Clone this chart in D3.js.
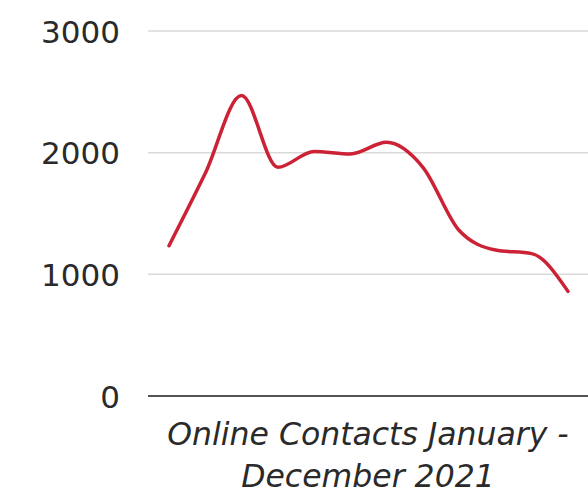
<!DOCTYPE html>
<html><head><meta charset="utf-8">
<script src="https://cdn.jsdelivr.net/npm/d3@7"></script>
<style>
html,body{margin:0;padding:0;background:#fff;}
svg{display:block;}
</style></head>
<body>
<script>
const months = ["Jan","Feb","Mar","Apr","May","Jun","Jul","Aug","Sep","Oct","Nov","Dec"];
const contacts = [1235, 1830, 2470, 1880, 2010, 1990, 2085, 1880, 1360, 1200, 1170, 860];
const yTicks = [0, 1000, 2000, 3000];
const xTitle = ["Online Contacts January -", "December 2021"];

const W = 588, H = 496;
const svg = d3.select("body").append("svg").attr("width", W).attr("height", H);

const plotL = 148, plotR = 600;
const y = d3.scaleLinear().domain([0, 3000]).range([396, 31]);
const x = d3.scalePoint().domain(months).range([169, 568]);

// gridlines
svg.append("g").selectAll("line").data(yTicks.filter(d => d > 0)).join("line")
  .attr("x1", plotL).attr("x2", plotR)
  .attr("y1", d => y(d)).attr("y2", d => y(d))
  .attr("stroke", "#d9d9d9").attr("stroke-width", 1.5);

// y axis labels
const yAxis = d3.axisLeft(y).tickValues(yTicks).tickSize(0).tickPadding(0).tickFormat(d3.format("d"));
const ga = svg.append("g").attr("transform", "translate(120,0)").call(yAxis);
ga.select(".domain").remove();
ga.selectAll("text")
  .attr("font-family", "DejaVu Sans, Verdana, sans-serif")
  .attr("font-size", 31).attr("fill", "#2a2a2a").attr("dy", "0.36em");

// baseline
svg.append("line").attr("x1", plotL).attr("x2", plotR)
  .attr("y1", y(0)).attr("y2", y(0))
  .attr("stroke", "#555").attr("stroke-width", 2);

// line
const line = d3.line().x((d, i) => x(months[i])).y(d => y(d)).curve(d3.curveMonotoneX);
svg.append("path").datum(contacts).attr("d", line)
  .attr("fill", "none").attr("stroke", "#cc2236").attr("stroke-width", 3.5)
  .attr("stroke-linejoin", "round").attr("stroke-linecap", "round");

// x title
const t = svg.append("text").attr("text-anchor", "middle")
  .attr("font-family", "DejaVu Sans, Verdana, sans-serif")
  .attr("font-style", "italic").attr("font-size", 31.5).attr("fill", "#2a2a2a");
t.selectAll("tspan").data(xTitle).join("tspan")
  .attr("x", 368).attr("y", (d, i) => 445 + i * 42).text(d => d);
</script>
</body></html>
